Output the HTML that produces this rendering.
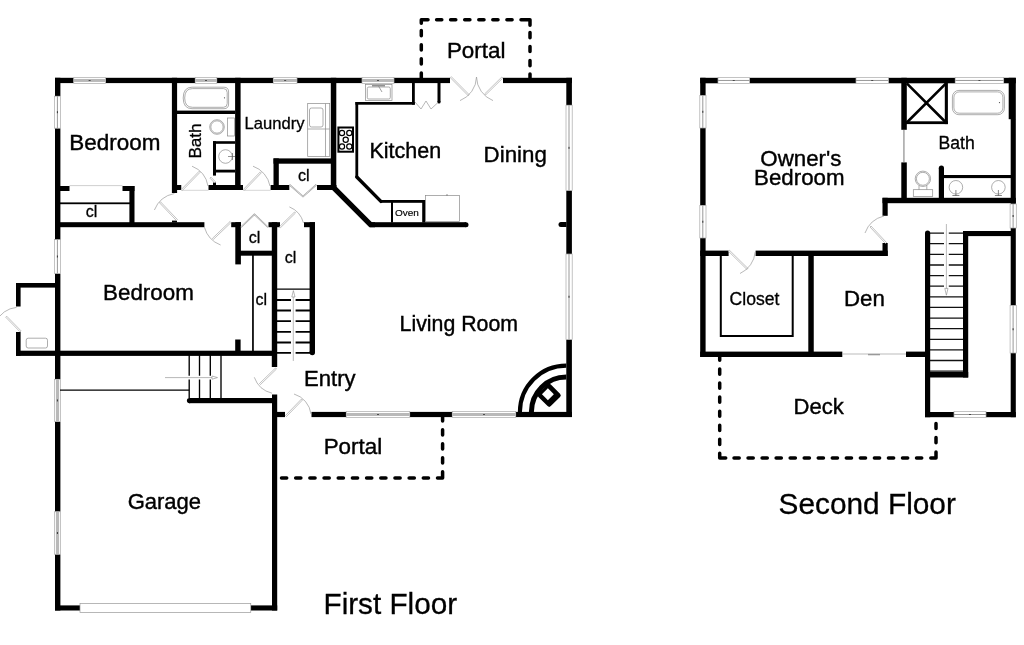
<!DOCTYPE html>
<html><head><meta charset="utf-8"><title>Floor Plan</title>
<style>html,body{margin:0;padding:0;background:#fff}body{width:1024px;height:645px;overflow:hidden;font-family:"Liberation Sans",sans-serif}svg{display:block;will-change:transform}</style>
</head><body>
<svg width="1024" height="645" viewBox="0 0 1024 645">
<rect width="1024" height="645" fill="#fff"/>
<g fill="#000"><rect x="55" y="77.8" width="18.75" height="5.3"/><rect x="105.5" y="77.8" width="89.7" height="5.3"/><rect x="216.8" y="77.8" width="56.5" height="5.3"/><rect x="297" y="77.8" width="65" height="5.3"/><rect x="394" y="77.8" width="56" height="5.3"/><rect x="503" y="77.8" width="69" height="5.3"/><rect x="55" y="77.8" width="5.4" height="18.4"/><rect x="55" y="128.2" width="5.4" height="111.8"/><rect x="55" y="273.5" width="5.4" height="105.5"/><rect x="55" y="421.5" width="5.4" height="90.25"/><rect x="55" y="554.25" width="5.4" height="56.25"/><rect x="566.3" y="77.8" width="5.6" height="27.4"/><rect x="566.3" y="190.5" width="5.6" height="63.5"/><rect x="566.3" y="339.5" width="5.6" height="77.5"/><rect x="560.8" y="222" width="5.7" height="5"/><rect x="277" y="411.9" width="8" height="5.2"/><rect x="311.5" y="411.9" width="34.75" height="5.2"/><rect x="409.75" y="411.9" width="42.5" height="5.2"/><rect x="515.75" y="411.9" width="56.15" height="5.2"/><rect x="272" y="394.5" width="5.2" height="216.0"/><rect x="55" y="605.4" width="25" height="5.1"/><rect x="250.75" y="605.4" width="26.45" height="5.1"/><rect x="171.9" y="77.8" width="5.2" height="115.2"/><rect x="177" y="185" width="4.25" height="5"/><rect x="235.1" y="77.8" width="5.5" height="112.2"/><rect x="177" y="110.6" width="58.2" height="3.4"/><rect x="208.5" y="185" width="34.5" height="5"/><rect x="213" y="141.2" width="3" height="34.4"/><rect x="213" y="141.2" width="22.2" height="2.6"/><rect x="213" y="169.7" width="22.2" height="2.8"/><rect x="213" y="182.5" width="3" height="2.7"/><rect x="60" y="186" width="9.5" height="5"/><rect x="122.5" y="186" width="12.0" height="5"/><rect x="129.4" y="186" width="5.1" height="41"/><rect x="60" y="202.4" width="70" height="1.8"/><rect x="55" y="222.2" width="149.4" height="5.0"/><rect x="172" y="220.6" width="5" height="1.9"/><rect x="16" y="283" width="39.5" height="4.6"/><rect x="16" y="283" width="4.6" height="23.5"/><rect x="16" y="332" width="4.6" height="23.8"/><rect x="16" y="350.7" width="261" height="5.2"/><rect x="273.5" y="158.4" width="62.5" height="5.3"/><rect x="273.5" y="158.4" width="5.3" height="31.6"/><rect x="270.6" y="185" width="18.7" height="5"/><rect x="317" y="185" width="19.3" height="5"/><rect x="330.8" y="77.8" width="5.5" height="112.2"/><rect x="231.2" y="222.2" width="9.8" height="5.0"/><rect x="235.3" y="222.2" width="5.6" height="42.2"/><rect x="240" y="250.7" width="32" height="5.0"/><rect x="268.5" y="222.2" width="11.5" height="5.0"/><rect x="271.8" y="222.2" width="5.4" height="144.8"/><rect x="304" y="222.2" width="11" height="5.0"/><rect x="309.6" y="222.2" width="5.4" height="130.3"/><rect x="252.1" y="255" width="1.7" height="96"/><rect x="235.2" y="339.5" width="5.4" height="11.5"/><rect x="189" y="398" width="88" height="5.2"/><rect x="370" y="222.2" width="96" height="5.0"/><rect x="412" y="83" width="2.8" height="21.7"/><rect x="355.4" y="102" width="59.4" height="2.7"/><rect x="355.4" y="102" width="2.8" height="75.5"/><rect x="437.5" y="83" width="3.0" height="19"/><rect x="380.3" y="200" width="44.7" height="2.8"/><rect x="391" y="200" width="2" height="22.5"/><rect x="422.2" y="200" width="3.2" height="22.5"/><rect x="700.2" y="77.8" width="17.8" height="5.5"/><rect x="749.5" y="77.8" width="106.5" height="5.5"/><rect x="888.4" y="77.8" width="66.8" height="5.5"/><rect x="1003.7" y="77.8" width="12.1" height="5.5"/><rect x="700.2" y="77.8" width="5.4" height="17.8"/><rect x="700.2" y="128" width="5.4" height="77.5"/><rect x="700.2" y="238" width="5.4" height="119"/><rect x="1008.7" y="77.8" width="7.1" height="41.4"/><rect x="1010.7" y="119" width="5.1" height="85"/><rect x="1010.7" y="228" width="5.1" height="77.5"/><rect x="1010.7" y="353" width="5.1" height="64.2"/><rect x="901.3" y="77.8" width="5.5" height="52.0"/><rect x="901.3" y="162.4" width="5.5" height="36.6"/><rect x="944.8" y="83" width="3.1" height="41.1"/><rect x="906" y="121.3" width="41.9" height="2.8"/><rect x="938.8" y="168" width="5.2" height="31"/><rect x="944" y="175" width="67" height="3.1"/><rect x="882.5" y="197.8" width="133.3" height="5.4"/><rect x="882.5" y="197.8" width="5.2" height="18.0"/><rect x="882.5" y="243" width="5.2" height="13"/><rect x="755.6" y="250.6" width="132.1" height="5.4"/><rect x="700.2" y="250.6" width="28.4" height="5.4"/><rect x="808.3" y="255" width="5.45" height="102"/><rect x="700.2" y="351.6" width="142.1" height="5.4"/><rect x="906" y="351.6" width="24" height="5.4"/><rect x="925" y="233" width="5.2" height="184.2"/><rect x="963" y="231" width="5.2" height="146.5"/><rect x="963" y="231" width="52" height="5.1"/><rect x="925" y="372" width="43.2" height="5.5"/><rect x="925" y="412" width="29" height="5.2"/><rect x="986" y="412" width="29.8" height="5.2"/></g>
<path d="M69.5 185.6 H122.5" stroke="#bbb" stroke-width="0.7"/>
<g fill="#000"><circle cx="466" cy="224.7" r="2.5"/><circle cx="561" cy="224.5" r="2.5"/><circle cx="439" cy="102" r="1.6"/><circle cx="312.3" cy="352.5" r="2.7"/><circle cx="189.5" cy="400.6" r="2.6"/><circle cx="941.4" cy="168" r="2.6"/><circle cx="927.6" cy="233" r="2.6"/></g>
<path d="M331 185 L336.3 185 L336.3 186.6 L371.9 222.2 L375 222.2 L375 227.2 L369.4 227.2 L332.2 190 L331 190Z" fill="#000"/>
<path d="M356.8 177 L380.9 201.4" stroke="#000" stroke-width="3.4" fill="none" stroke-linecap="round"/>
<rect x="73.75" y="77.35000000000001" width="31.75" height="6.2" fill="#fff" stroke="#aaa" stroke-width="0.7"/><rect x="73.75" y="78.95" width="31.75" height="3" fill="#b9b9b9"/><rect x="88.625" y="80.05" width="2" height="0.8" fill="#333"/>
<rect x="195.2" y="77.35000000000001" width="21.6" height="6.2" fill="#fff" stroke="#aaa" stroke-width="0.7"/><rect x="195.2" y="78.95" width="21.6" height="3" fill="#b9b9b9"/><rect x="205.0" y="80.05" width="2" height="0.8" fill="#333"/>
<rect x="273.3" y="77.35000000000001" width="23.7" height="6.2" fill="#fff" stroke="#aaa" stroke-width="0.7"/><rect x="273.3" y="78.95" width="23.7" height="3" fill="#b9b9b9"/><rect x="284.15" y="80.05" width="2" height="0.8" fill="#333"/>
<rect x="362" y="77.35000000000001" width="32" height="6.2" fill="#fff" stroke="#aaa" stroke-width="0.7"/><rect x="362" y="78.95" width="32" height="3" fill="#b9b9b9"/><rect x="377.0" y="80.05" width="2" height="0.8" fill="#333"/>
<rect x="718" y="77.35000000000001" width="31.5" height="6.2" fill="#fff" stroke="#aaa" stroke-width="0.7"/><rect x="718" y="79.95" width="31.5" height="1" fill="#999"/><rect x="732.75" y="80.05" width="2" height="0.8" fill="#333"/>
<rect x="856" y="77.35000000000001" width="32.4" height="6.2" fill="#fff" stroke="#aaa" stroke-width="0.7"/><rect x="856" y="79.95" width="32.4" height="1" fill="#999"/><rect x="871.2" y="80.05" width="2" height="0.8" fill="#333"/>
<rect x="955.2" y="77.35000000000001" width="48.5" height="6.2" fill="#fff" stroke="#aaa" stroke-width="0.7"/><rect x="955.2" y="79.95" width="48.5" height="1" fill="#999"/><rect x="978.45" y="80.05" width="2" height="0.8" fill="#333"/>
<rect x="346.25" y="411.4" width="63.5" height="6.2" fill="#fff" stroke="#aaa" stroke-width="0.7"/><rect x="346.25" y="413.0" width="63.5" height="3" fill="#b9b9b9"/><rect x="377.0" y="414.1" width="2" height="0.8" fill="#333"/>
<rect x="452.25" y="411.4" width="63.5" height="6.2" fill="#fff" stroke="#aaa" stroke-width="0.7"/><rect x="452.25" y="413.0" width="63.5" height="3" fill="#b9b9b9"/><rect x="483.0" y="414.1" width="2" height="0.8" fill="#333"/>
<rect x="954" y="411.4" width="32" height="6.2" fill="#fff" stroke="#aaa" stroke-width="0.7"/><rect x="954" y="414.0" width="32" height="1" fill="#999"/><rect x="969.0" y="414.1" width="2" height="0.8" fill="#333"/>
<rect x="54.4" y="96.2" width="6.2" height="32.0" fill="#fff" stroke="#aaa" stroke-width="0.7"/><rect x="56.9" y="96.2" width="1.0" height="32.0" fill="#999"/><rect x="56.9" y="111.19999999999999" width="1" height="2" fill="#333"/>
<rect x="54.4" y="239.5" width="6.2" height="34.0" fill="#fff" stroke="#aaa" stroke-width="0.7"/><rect x="56.9" y="239.5" width="1.0" height="34.0" fill="#999"/><rect x="56.9" y="255.5" width="1" height="2" fill="#333"/>
<rect x="54.4" y="379.3" width="6.2" height="42.3" fill="#fff" stroke="#aaa" stroke-width="0.7"/><rect x="55.9" y="379.3" width="3.2" height="42.3" fill="#b9b9b9"/><rect x="56.9" y="399.45000000000005" width="1" height="2" fill="#333"/>
<rect x="54.4" y="511.75" width="6.2" height="42.5" fill="#fff" stroke="#aaa" stroke-width="0.7"/><rect x="55.9" y="511.75" width="3.2" height="42.5" fill="#b9b9b9"/><rect x="56.9" y="532.0" width="1" height="2" fill="#333"/>
<rect x="566.0" y="105.2" width="6.2" height="85.3" fill="#fff" stroke="#aaa" stroke-width="0.7"/><rect x="568.5" y="105.2" width="1.0" height="85.3" fill="#999"/><rect x="568.5" y="146.85" width="1" height="2" fill="#333"/>
<rect x="566.0" y="254" width="6.2" height="85.5" fill="#fff" stroke="#aaa" stroke-width="0.7"/><rect x="568.5" y="254" width="1.0" height="85.5" fill="#999"/><rect x="568.5" y="295.75" width="1" height="2" fill="#333"/>
<rect x="699.8" y="95.6" width="6.2" height="32.4" fill="#fff" stroke="#aaa" stroke-width="0.7"/><rect x="702.3" y="95.6" width="1.0" height="32.4" fill="#999"/><rect x="702.3" y="110.8" width="1" height="2" fill="#333"/>
<rect x="699.8" y="205.5" width="6.2" height="32.5" fill="#fff" stroke="#aaa" stroke-width="0.7"/><rect x="702.3" y="205.5" width="1.0" height="32.5" fill="#999"/><rect x="702.3" y="220.75" width="1" height="2" fill="#333"/>
<rect x="1010.1" y="204" width="6.2" height="24" fill="#fff" stroke="#aaa" stroke-width="0.7"/><rect x="1012.6" y="204" width="1.0" height="24" fill="#999"/><rect x="1012.6" y="215.0" width="1" height="2" fill="#333"/>
<rect x="1010.1" y="305.5" width="6.2" height="47.5" fill="#fff" stroke="#aaa" stroke-width="0.7"/><rect x="1012.6" y="305.5" width="1.0" height="47.5" fill="#999"/><rect x="1012.6" y="328.25" width="1" height="2" fill="#333"/>
<rect x="80" y="603.6" width="170.75" height="8.8" fill="#fff" stroke="#999" stroke-width="0.7"/>
<path d="M842.3 354 H906" stroke="#aaa" stroke-width="0.8"/><path d="M868 354.6 H880" stroke="#999" stroke-width="1.4"/>
<path d="M421.3 30.6 L421.3 35.8M421.3 44.7 L421.3 49.9M421.3 58.8 L421.3 64.0M421.3 72.9 L421.3 78.1M421.3 23.2 L421.3 19.8M421.3 19.8 L428 19.8M436.6 19.8 L441.8 19.8M450.6 19.8 L455.8 19.8M464.7 19.8 L469.9 19.8M478.8 19.8 L484.0 19.8M492.8 19.8 L498.0 19.8M506.9 19.8 L512.1 19.8M521 19.8 L530 19.8M530 19.8 L530 25.3M530 32.5 L530 37.7M530 46.4 L530 51.6M530 60.5 L530 65.7M530 73.9 L530 79.1M442.6 415.8 L442.6 421.0M442.6 429.8 L442.6 435.0M442.6 443.7 L442.6 448.9M442.6 457.8 L442.6 463.0M442.6 471.8 L442.6 478.05M437.5 478.05 L442.6 478.05M281.5 478.05 L286.7 478.05M295.68 478.05 L300.88 478.05M309.86 478.05 L315.06 478.05M324.04 478.05 L329.24 478.05M338.22 478.05 L343.42 478.05M352.4 478.05 L357.6 478.05M366.58 478.05 L371.78 478.05M380.76 478.05 L385.96 478.05M394.94 478.05 L400.14 478.05M409.12 478.05 L414.32 478.05M423.3 478.05 L428.5 478.05M719.7 355.0 L719.7 360.2M719.7 369.04 L719.7 374.24M719.7 383.08 L719.7 388.28M719.7 397.12 L719.7 402.32M719.7 411.16 L719.7 416.36M719.7 425.2 L719.7 430.4M719.7 439.24 L719.7 444.44M719.7 453.3 L719.7 457.9M719.7 457.9 L725.7 457.9M734.0 457.9 L739.2 457.9M748.04 457.9 L753.24 457.9M762.08 457.9 L767.28 457.9M776.12 457.9 L781.32 457.9M790.16 457.9 L795.36 457.9M804.2 457.9 L809.4 457.9M818.24 457.9 L823.44 457.9M832.28 457.9 L837.48 457.9M846.32 457.9 L851.52 457.9M860.36 457.9 L865.56 457.9M874.4 457.9 L879.6 457.9M888.44 457.9 L893.64 457.9M902.48 457.9 L907.68 457.9M916.52 457.9 L921.72 457.9M930.8 457.9 L936 457.9M936 452 L936 457.9M936 423.4 L936 428.6M936 437.5 L936 442.7" stroke="#000" stroke-width="3.5" fill="none" stroke-linecap="round"/>
<g stroke="#000" fill="none"><path d="M277 289.1 H310" stroke-width="1.3"/><path d="M277 300 H291 M295.6 300 H310" stroke-width="1.8"/><path d="M277 310.5 H291 M295.6 310.5 H310" stroke-width="1.8"/><path d="M277 321.1 H291 M295.6 321.1 H310" stroke-width="1.8"/><path d="M277 331.9 H291 M295.6 331.9 H310" stroke-width="1.8"/><path d="M277 342.5 H291 M295.6 342.5 H310" stroke-width="1.8"/><path d="M277 352.8 H291 M295.6 352.8 H310" stroke-width="1.8"/></g><path d="M293.3 296 V361" stroke="#aaa" stroke-width="0.8" fill="none"/><path d="M293.4 290.6 L291.8 297 H295 Z" fill="#fff" stroke="#888" stroke-width="0.6"/>
<g stroke="#000" stroke-width="1.35" fill="none"><path d="M189.2 355 V375.8 M189.2 379.6 V398"/><path d="M199.5 355 V375.8 M199.5 379.6 V398"/><path d="M210.3 355 V375.8 M210.3 379.6 V398"/><path d="M221 355 V398"/><path d="M60 390.1 H189.2"/></g><path d="M165 377.6 H212" stroke="#999" stroke-width="0.7"/><path d="M217.5 377.6 L212 376 V379.2 Z" fill="#fff" stroke="#888" stroke-width="0.6"/>
<g stroke="#111" fill="none" stroke-width="1.3"><path d="M930 233.1 H944 M948.8 233.1 H963"/><path d="M930 243.7 H944 M948.8 243.7 H963"/><path d="M930 254.3 H944 M948.8 254.3 H963"/><path d="M930 265.0 H944 M948.8 265.0 H963"/><path d="M930 275.6 H944 M948.8 275.6 H963"/><path d="M930 286.2 H944 M948.8 286.2 H963"/><path d="M930 296.8 H963"/><path d="M930 307.4 H963"/><path d="M930 318.1 H963"/><path d="M930 328.7 H963"/><path d="M930 339.3 H963"/><path d="M930 349.9 H963"/><path d="M930 360.5 H963"/><path d="M930 371.2 H963"/></g><path d="M946.4 224 V289" stroke="#aaa" stroke-width="0.8"/><path d="M946.4 295.2 L944.8 288.4 H948 Z" fill="#fff" stroke="#888" stroke-width="0.6"/>
<path d="M720.8 256 V336 H792.7 V256" stroke="#000" stroke-width="2" fill="none"/>
<path d="M906.8 83.3 L946 122.5 M946 83.3 L906.8 122.5" stroke="#000" stroke-width="2.6" fill="none"/>
<g stroke="#000" fill="none"><path d="M519.9 412 A46.4 46.4 0 0 1 566.3 365.6" stroke-width="4.1"/><path d="M531.4 412 A34.9 34.9 0 0 1 566.3 377.1" stroke-width="5"/><rect x="-8.8" y="-8.8" width="17.6" height="17.6" rx="2.3" transform="translate(549.2 395.3) rotate(45)" fill="#000" stroke="none"/><rect x="-4.2" y="-4.2" width="8.4" height="8.4" transform="translate(547.9 394.2) rotate(45)" fill="#fff" stroke="none"/></g>
<rect x="338.4" y="127.5" width="14.6" height="24.2" fill="#fff" stroke="#000" stroke-width="2"/><g stroke="#000" stroke-width="1.2" fill="none"><circle cx="342" cy="133" r="2.6"/><circle cx="349.3" cy="133" r="2.6"/><circle cx="345.7" cy="139.7" r="2.6"/><circle cx="342" cy="146.5" r="2.6"/><circle cx="349.3" cy="146.5" r="2.6"/></g>
<path d="M192 87.2 H224 Q228.6 87.2 228.6 92 V104 Q228.6 108.7 224 108.7 H192 Q183.2 108.7 183.2 98 Q183.2 87.2 192 87.2 Z" stroke="#8a8a8a" stroke-width="0.7" fill="none"/><path d="M192.5 88.6 H223.5 Q227.2 88.6 227.2 92.5 V103.5 Q227.2 107.3 223.5 107.3 H192.5 Q184.7 107.3 184.7 98 Q184.7 88.6 192.5 88.6 Z" stroke="#8a8a8a" stroke-width="0.7" fill="none"/><circle cx="224.5" cy="97.8" r="0.6" fill="#444"/><circle cx="217" cy="127" r="7.3" stroke="#8a8a8a" stroke-width="0.7" fill="none"/><circle cx="217" cy="127" r="6.2" stroke="#8a8a8a" stroke-width="0.7" fill="none"/><rect x="227.5" y="118" width="7" height="18" stroke="#8a8a8a" stroke-width="0.7" fill="none"/><circle cx="225.5" cy="156.5" r="6.8" stroke="#8a8a8a" stroke-width="0.7" fill="none"/><path d="M228 156.5 H235 M232.5 153 V160" stroke="#666" stroke-width="0.7"/><rect x="307.7" y="103.6" width="22" height="53" stroke="#8a8a8a" stroke-width="0.7" fill="none"/><path d="M307.7 129 H329.7 M325.5 103.6 V156.6" stroke="#8a8a8a" stroke-width="0.7" fill="none"/><rect x="309.5" y="108" width="13.5" height="19" rx="2" stroke="#8a8a8a" stroke-width="0.7" fill="none"/><rect x="365.5" y="84.4" width="26.5" height="16" stroke="#8a8a8a" stroke-width="0.7" fill="none"/><rect x="367.3" y="87" width="23" height="12" rx="1.5" stroke="#8a8a8a" stroke-width="0.7" fill="none"/><path d="M372 85.8 H385" stroke="#777" stroke-width="1.2"/><path d="M378.5 86 L382 92" stroke="#888" stroke-width="0.8"/><rect x="425.6" y="195.6" width="33.9" height="26" stroke="#8a8a8a" stroke-width="0.7" fill="none"/><path d="M446 195 h2" stroke="#777" stroke-width="0.8"/><rect x="26.2" y="338.2" width="21.3" height="9.8" rx="2" stroke="#8a8a8a" stroke-width="0.7" fill="none"/><rect x="952.4" y="90.4" width="52" height="24.3" rx="6.5" stroke="#8a8a8a" stroke-width="0.7" fill="none"/><rect x="953.9" y="91.9" width="49" height="21.3" rx="5.3" stroke="#8a8a8a" stroke-width="0.7" fill="none"/><circle cx="999.5" cy="102.6" r="0.6" fill="#444"/><circle cx="922.9" cy="178.8" r="7.7" stroke="#8a8a8a" stroke-width="0.7" fill="none"/><circle cx="922.9" cy="178.8" r="6.5" stroke="#8a8a8a" stroke-width="0.7" fill="none"/><rect x="913.3" y="189.7" width="19.4" height="6.7" stroke="#8a8a8a" stroke-width="0.7" fill="none"/><path d="M919 185.5 V189.7 M926.8 185.5 V189.7" stroke="#8a8a8a" stroke-width="0.7" fill="none"/><circle cx="955.9" cy="187.3" r="6.8" stroke="#8a8a8a" stroke-width="0.7" fill="none"/><path d="M955.9 190 V196 M952.4 195.5 H959.4" stroke="#666" stroke-width="0.8"/><circle cx="998.4" cy="187.3" r="6.8" stroke="#8a8a8a" stroke-width="0.7" fill="none"/><path d="M998.4 190 V196 M994.9 195.5 H1001.9" stroke="#666" stroke-width="0.8"/>
<path d="M182.3 190.5 L200.1 172.3 L199.1 171.3 L181.3 189.5 Z" stroke="#999" stroke-width="0.6" fill="#fff"/><path d="M192 166.2 A26 26 0 0 1 208 186" stroke="#999" stroke-width="0.7" fill="none"/><path d="M181 190.3 H208.5" stroke="#bbb" stroke-width="0.6"/><path d="M215.3 181.7 L210.9 177.1 L209.9 178.1 L214.3 182.7 Z" stroke="#999" stroke-width="0.6" fill="#fff"/><path d="M244.5 190.3 L261.3 172.9 L260.3 171.9 L243.5 189.3 Z" stroke="#999" stroke-width="0.6" fill="#fff"/><path d="M253 166.2 A26 26 0 0 1 270 186" stroke="#999" stroke-width="0.7" fill="none"/><path d="M243 190.3 H270.6" stroke="#bbb" stroke-width="0.6"/><path d="M177.4 219.5 L160.5 201.8 L159.5 202.8 L176.4 220.5 Z" stroke="#999" stroke-width="0.6" fill="#fff"/><path d="M154.4 210 A27 27 0 0 1 174.4 193.5" stroke="#999" stroke-width="0.7" fill="none"/><path d="M230.1 221.5 L212.5 238.3 L213.5 239.3 L231.1 222.5 Z" stroke="#999" stroke-width="0.6" fill="#fff"/><path d="M204.4 227.2 A26.6 26.6 0 0 0 220.6 245" stroke="#999" stroke-width="0.7" fill="none"/><path d="M240.9 227.2 L254.4 214.4 L268 227.2" stroke="#999" stroke-width="1.5" fill="none"/><path d="M240.9 227.2 L254.4 214.4 L268 227.2" stroke="#fff" stroke-width="0.6" fill="none"/><path d="M289.4 184.6 L303 196.5 L316.4 184.6" stroke="#999" stroke-width="1.6" fill="none"/><path d="M289.4 184.6 L303 196.5 L316.4 184.6" stroke="#fff" stroke-width="0.6" fill="none"/><path d="M280.5 227.7 L295.5 213.0 L294.5 212.0 L279.5 226.7 Z" stroke="#999" stroke-width="0.6" fill="#fff"/><path d="M289.4 206.9 A24 24 0 0 1 303.5 223" stroke="#999" stroke-width="0.7" fill="none"/><path d="M415 102 L421 109 L426 101 L431 109 L438 102.5" stroke="#999" stroke-width="0.7" fill="none"/><path d="M450.3 77.7 L468.2 95.7 L469.2 94.7 L451.3 76.7 Z" stroke="#999" stroke-width="0.6" fill="#fff"/><path d="M501.8 77.0 L484.7 93.9 L485.7 94.9 L502.8 78.0 Z" stroke="#999" stroke-width="0.6" fill="#fff"/><path d="M460 100.6 A26 26 0 0 0 476.5 77" stroke="#999" stroke-width="0.7" fill="none"/><path d="M493 100.6 A26 26 0 0 1 476.5 77" stroke="#999" stroke-width="0.7" fill="none"/><path d="M275.5 368.0 L259.5 383.5 L260.5 384.5 L276.5 369.0 Z" stroke="#999" stroke-width="0.6" fill="#fff"/><path d="M254.3 377.3 A25 25 0 0 0 272 393.2" stroke="#999" stroke-width="0.7" fill="none"/><path d="M286.5 416.5 L302.5 400.0 L301.5 399.0 L285.5 415.5 Z" stroke="#999" stroke-width="0.6" fill="#fff"/><path d="M294 394 A24 24 0 0 1 311 414" stroke="#999" stroke-width="0.7" fill="none"/><path d="M21.1 330.9 L6.7 316.2 L5.7 317.2 L20.1 331.9 Z" stroke="#999" stroke-width="0.6" fill="#fff"/><path d="M16.5 307.4 A25 25 0 0 0 -4 322" stroke="#999" stroke-width="0.7" fill="none"/><path d="M728.5 251.3 L747.0 269.5 L748.0 268.5 L729.5 250.3 Z" stroke="#999" stroke-width="0.6" fill="#fff"/><path d="M755.2 252 A26 26 0 0 1 740 273.5" stroke="#999" stroke-width="0.7" fill="none"/><path d="M886.5 242.5 L871.0 226.0 L870.0 227.0 L885.5 243.5 Z" stroke="#999" stroke-width="0.6" fill="#fff"/><path d="M865 233 A27 27 0 0 1 884 216" stroke="#999" stroke-width="0.7" fill="none"/><path d="M903.9 130 V162" stroke="#aaa" stroke-width="1.6"/>
<g font-family="'Liberation Sans', sans-serif" fill="#000" stroke="#000"><text x="69.3" y="150" font-size="22.45" text-anchor="start" stroke-width="0.4" >Bedroom</text><text x="200.7" y="158.6" font-size="17.1" text-anchor="start" stroke-width="0.3" transform="rotate(-90 200.7 158.6)">Bath</text><text x="244.5" y="129" font-size="16.6" text-anchor="start" stroke-width="0.3" >Laundry</text><text x="369.4" y="157.7" font-size="21.5" text-anchor="start" stroke-width="0.4" >Kitchen</text><text x="483.6" y="162.4" font-size="22.3" text-anchor="start" stroke-width="0.4" >Dining</text><text x="446.9" y="57.6" font-size="22.4" text-anchor="start" stroke-width="0.4" >Portal</text><text x="85.8" y="217" font-size="16" text-anchor="start" stroke-width="0.3" >cl</text><text x="298" y="180.7" font-size="16" text-anchor="start" stroke-width="0.3" >cl</text><text x="248.8" y="242.6" font-size="16" text-anchor="start" stroke-width="0.3" >cl</text><text x="284.8" y="262.6" font-size="16" text-anchor="start" stroke-width="0.3" >cl</text><text x="255.4" y="305" font-size="16" text-anchor="start" stroke-width="0.3" >cl</text><text x="0" y="0" font-size="8.8" text-anchor="start" stroke-width="0.15" transform="translate(394.9 215.7) scale(1.14 1)">Oven</text><text x="103" y="300.2" font-size="22.4" text-anchor="start" stroke-width="0.4" >Bedroom</text><text x="399.6" y="331" font-size="21.3" text-anchor="start" stroke-width="0.4" >Living Room</text><text x="304" y="386" font-size="22.1" text-anchor="start" stroke-width="0.4" >Entry</text><text x="323.7" y="453.7" font-size="22.4" text-anchor="start" stroke-width="0.4" >Portal</text><text x="127.7" y="508.5" font-size="22.0" text-anchor="start" stroke-width="0.4" >Garage</text><text x="323.5" y="614" font-size="29.7" text-anchor="start" stroke-width="0.3" >First Floor</text><text x="800.9" y="165.6" font-size="22.3" text-anchor="middle" stroke-width="0.4" >Owner's</text><text x="799.3" y="184.8" font-size="22.3" text-anchor="middle" stroke-width="0.4" >Bedroom</text><text x="938.5" y="148.5" font-size="17.6" text-anchor="start" stroke-width="0.3" >Bath</text><text x="729.6" y="305" font-size="17.6" text-anchor="start" stroke-width="0.3" >Closet</text><text x="843.9" y="306.4" font-size="22.3" text-anchor="start" stroke-width="0.4" >Den</text><text x="793.5" y="413.7" font-size="22.1" text-anchor="start" stroke-width="0.4" >Deck</text><text x="778.6" y="513.5" font-size="29.8" text-anchor="start" stroke-width="0.3" >Second Floor</text></g>
</svg>
</body></html>
